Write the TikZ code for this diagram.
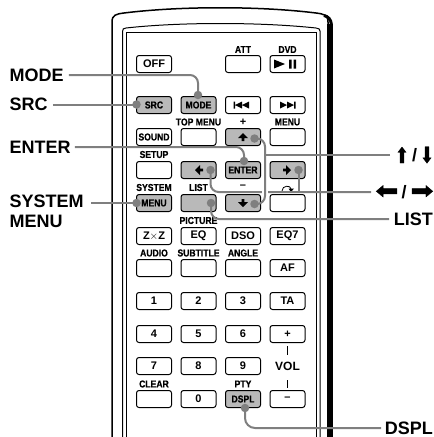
\documentclass[tikz,border=0pt]{standalone}
\usepackage{fontspec}
\setmainfont{Liberation Sans}
\newfontfamily\condf{Liberation Sans}[FakeStretch=0.86,FakeBold=0.6]
\newfontfamily\symf{DejaVu Sans}[FakeBold=1.5]
\begin{document}
\begin{tikzpicture}[x=1pt,y=-1pt,
  btn/.style={draw=black,line width=1pt,rounded corners=2.5pt,minimum width=35pt,minimum height=17pt,inner sep=0pt,font=\condf\bfseries\fontsize{10}{10}\selectfont},
  big/.style={btn,font=\bfseries\fontsize{11}{11}\selectfont},
  hot/.style={fill=btngray},
  small/.style={inner sep=0pt,font=\condf\bfseries\fontsize{10}{10}\selectfont},
  lab/.style={inner sep=0pt,font=\bfseries\fontsize{18}{19}\selectfont},
  lead/.style={draw=leadgray,line width=2pt,rounded corners=8pt},
  dotm/.style={circle,fill=leadgray,inner sep=0pt,minimum size=8.5pt},
  body/.style={draw=black,line width=1pt}]
\definecolor{btngray}{HTML}{B9B9B9}
\definecolor{leadgray}{HTML}{7F7F7F}
\useasboundingbox (0,0) rectangle (434,437);
% body
\draw[body,line width=1.5pt] (112,437) -- (112,22) .. controls (112,15) and (116,14) .. (124,13) .. controls (180,6) and (260,6) .. (316,13) .. controls (324,14) and (328,15) .. (328,22) -- (328,437);
\draw[black,line width=5.5pt] (330.2,24) -- (330.2,437);
\draw[black,line width=3pt] (324,15.5) .. controls (328,16.5) and (331,19) .. (331.5,25);
\draw[body] (122.7,437) -- (122.7,31) .. controls (122.7,29) and (123,28.5) .. (126,28) .. controls (180,22) and (260,22) .. (316,28) .. controls (319,28.5) and (320,29) .. (320,31) -- (320,437);
\draw[body] (126,437) -- (126,32) -- (316,32) -- (316,437);
% row 1
\node[big] (off) at (154,64) {OFF};
\node[btn] (att) at (243,64) {};
\node[btn] (dvd) at (287.5,64) {};
\node[small] (tatt) at (243,49.5) {ATT};
\node[small] (tdvd) at (287.5,49.5) {DVD};
% row 2
\node[btn,hot] (src) at (154,105) {SRC};
\node[btn,hot] (mode) at (198.5,105) {MODE};
\node[btn] (prev) at (243,105) {};
\node[btn] (next) at (287.5,105) {};
% row 3
\node[small] (ttop) at (198.5,122) {TOP MENU};
\node[small,font=\bfseries\fontsize{11}{11}\selectfont] (tplus) at (243,122) {+};
\node[small] (tmenu) at (287.5,122) {MENU};
\node[btn] (sound) at (154,137) {SOUND};
\node[btn] (topm) at (198.5,137) {};
\node[btn,hot] (up) at (243,137) {};
\node[btn] (menu) at (287.5,137) {};
% row 4
\node[small] (tsetup) at (154,154.5) {SETUP};
\node[btn] (setup) at (154,170) {};
\node[btn,hot] (left) at (198.5,170) {};
\node[btn,hot] (enter) at (243,170) {ENTER};
\node[btn,hot] (right) at (287.5,170) {};
% row 5
\node[small] (tsys) at (154,187.5) {SYSTEM};
\node[small] (tlist) at (198.5,187.5) {LIST};
\node[small,font=\bfseries\fontsize{11}{11}\selectfont] (tminus) at (243,187) {--};
\node[btn,hot] (sysm) at (154,203) {MENU};
\node[btn,hot] (list) at (198.5,203) {};
\node[btn,hot] (down) at (243,203) {};
\node[btn] (ret) at (287.5,203) {};
% row 6
\node[small] (tpic) at (198.5,220.5) {PICTURE};
\node[big] (zxz) at (154,236) {Z$\times$Z};
\node[big] (eq) at (198.5,236) {EQ};
\node[big] (dso) at (243,236) {DSO};
\node[big] (eqs) at (287.5,236) {EQ7};
% row 7
\node[small] (taud) at (154,253) {AUDIO};
\node[small] (tsub) at (198.5,253) {SUBTITLE};
\node[small] (tang) at (243,253) {ANGLE};
\node[btn] (aud) at (154,268) {};
\node[btn] (sub) at (198.5,268) {};
\node[btn] (ang) at (243,268) {};
\node[big] (af) at (287.5,268) {AF};
% keypad
\node[big] (k1) at (154,301) {1};
\node[big] (k2) at (198.5,301) {2};
\node[big] (k3) at (243,301) {3};
\node[big] (ta) at (287.5,301) {TA};
\node[big] (k4) at (154,334) {4};
\node[big] (k5) at (198.5,334) {5};
\node[big] (k6) at (243,334) {6};
\node[big] (vp) at (287.5,334) {+};
\node[big] (k7) at (154,366) {7};
\node[big] (k8) at (198.5,366) {8};
\node[big] (k9) at (243,366) {9};
\node[inner sep=0pt,font=\bfseries\fontsize{12}{12}\selectfont] (vol) at (287.5,366.5) {VOL};
\node[small] (tclr) at (154,384) {CLEAR};
\node[small] (tpty) at (243,384) {PTY};
\node[btn] (clr) at (154,399) {};
\node[big] (k0) at (198.5,399) {0};
\node[btn,hot] (dspl) at (243,399) {DSPL};
\node[big] (vm) at (287.5,399) {--};
\draw[line width=1.6pt] (287.5,346) -- (287.5,355) (287.5,380) -- (287.5,388);
% transport glyphs
\fill (274,59.5) -- (285,64) -- (274,68.5) -- cycle;
\fill (289,59.5) rectangle (291.5,68.5) (293.5,59.5) rectangle (296,68.5);
\fill (233.5,101.5) rectangle (235,108.5) (235,105) -- (242,101.5) -- (242,108.5) -- cycle (242,105) -- (249,101.5) -- (249,108.5) -- cycle;
\fill (280,101.5) -- (287,105) -- (280,108.5) -- cycle (287,101.5) -- (294,105) -- (287,108.5) -- cycle (294,101.5) rectangle (295.5,108.5);
% return icon
\draw[line width=0.8pt] (282,191) .. controls (282,185) and (291,185) .. (291,189);
\fill (288.5,188.5) -- (294,188.5) -- (291,192) -- cycle;
% arrows on keys
\fill (243,133) -- (248,138) -- (244.3,138) -- (244.3,141) -- (241.7,141) -- (241.7,138) -- (238,138) -- cycle;
\fill (243,207) -- (248,202) -- (244.3,202) -- (244.3,199) -- (241.7,199) -- (241.7,202) -- (238,202) -- cycle;
\fill (195,170) -- (200,165) -- (200,168.7) -- (203,168.7) -- (203,171.3) -- (200,171.3) -- (200,175) -- cycle;
\fill (291,170) -- (286,165) -- (286,168.7) -- (283,168.7) -- (283,171.3) -- (286,171.3) -- (286,175) -- cycle;
% labels
\node[lab,anchor=west] (lmode) at (9.5,75) {MODE};
\node[lab,anchor=west] (lsrc) at (9.5,104.5) {SRC};
\node[lab,anchor=west] (lent) at (9.5,147) {ENTER};
\node[lab,anchor=north west,align=left,text width=80pt,font=\bfseries\fontsize{18}{19.5}\selectfont] (lsys) at (9.5,195) {SYSTEM\\MENU};
\node[inner sep=0pt] (aup) at (402,155) {\resizebox{14pt}{16pt}{\symf ⬆}};
\node[lab] (aslv) at (414.5,155) {/};
\node[inner sep=0pt] (adn) at (427,155) {\resizebox{14pt}{16pt}{\symf ⬇}};
\node[inner sep=0pt] (alt) at (387,192) {\resizebox{23pt}{13pt}{\symf ⬅}};
\node[lab] (asl) at (404,192) {/};
\node[inner sep=0pt] (art) at (422,192) {\resizebox{23pt}{13pt}{\symf ➡}};
\node[lab,anchor=east] (llist) at (433,219) {LIST};
\node[lab,anchor=east] (ldspl) at (433,428) {DSPL};
% dots
\node[dotm] (dmode) at (198,95) {};
\node[dotm] (dsrc) at (136.5,104.5) {};
\node[dotm] (dup) at (254.5,138.5) {};
\node[dotm] (dent) at (244,161) {};
\node[dotm] (dleft) at (210.5,170) {};
\node[dotm] (dright) at (298.5,170) {};
\node[dotm] (dsys) at (136.5,203) {};
\node[dotm] (dlist) at (211,203) {};
\node[dotm] (ddown) at (254.5,204) {};
\node[dotm] (ddspl) at (245,408) {};
% connectors
\draw[lead] (lmode.east) ++(5,0) -- (198,75) -- (dmode.center);
\draw[lead] (lsrc.east) ++(5,0) -- (dsrc.center);
\draw[lead] (lent.east) ++(4,0) -- (244,147) -- (dent.center);
\coordinate (csys) at (91,203);
\draw[lead] (csys) -- (dsys.center);
\coordinate (chor) at (371,192);
\draw[lead] (chor) -- (210.5,192) -- (dleft.center);
\coordinate (cr) at (298.5,192);
\draw[lead,rounded corners=0pt] (dright.center) -- (cr);
\coordinate (ga) at (265,188);
\coordinate (gb) at (265,195);
\draw[white,line width=6pt] (ga) -- (gb);
\draw[lead] (dup.center) -- (265,138.5) -- (265,204) -- (ddown.center);
\coordinate (carr) at (390,155);
\draw[lead] (carr) -- (265,155);
\coordinate (clist) at (389,219);
\draw[lead] (clist) -- (211,219) -- (dlist.center);
\coordinate (cdspl) at (381,428);
\draw[lead,rounded corners=10pt] (cdspl) -- (245,428) -- (ddspl.center);
\end{tikzpicture}
\end{document}
